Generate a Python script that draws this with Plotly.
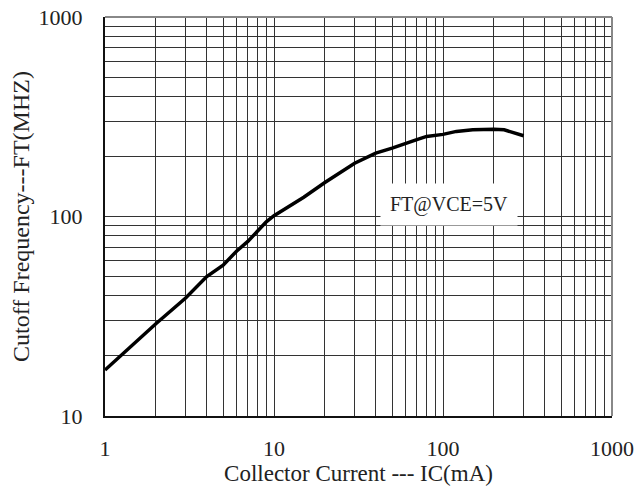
import plotly.graph_objects as go

# Data
ic_ma = [1, 2, 3, 4, 5, 6, 7, 8, 9, 10, 15, 20, 30, 40, 50, 70, 80, 100, 120, 150, 200, 230, 300]
ft_mhz = [17, 29, 39, 50, 57, 67, 75, 85, 94, 101, 125, 148, 185, 208, 220, 243, 252, 258, 267, 272, 274, 272, 254]

x_major = [1, 10, 100, 1000]
x_major_text = ["1", "10", "100", "1000"]
y_major = [10, 100, 1000]
y_major_text = ["10", "100", "1000"]
x_minor = [m * d for d in [1, 10, 100] for m in range(2, 10)]
y_minor = [m * d for d in [10, 100] for m in range(2, 10)]

FONT = "Liberation Serif"

fig = go.Figure()
fig.add_trace(go.Scatter(x=ic_ma, y=ft_mhz, mode="lines",
                         line=dict(color="black", width=3.5), showlegend=False))

fig.add_annotation(x=2.036, y=2.06, xref="x", yref="y", text="FT@VCE=5V",
                   showarrow=False, bgcolor="white", borderpad=9,
                   font=dict(family=FONT, size=20, color="#222"))

axis_common = dict(
    type="log", automargin=False,
    showgrid=True, gridcolor="#333", gridwidth=1,
    showline=True, linecolor="#111", linewidth=2,
    ticks="", zeroline=False, ticklabeloverflow="allow",
    tickfont=dict(family=FONT, size=22, color="#222"),
)

fig.update_xaxes(range=[0, 3], tickvals=x_major, ticktext=x_major_text,
                 minor=dict(tickvals=x_minor, showgrid=True, gridcolor="#333", gridwidth=1),
                 ticklabelstandoff=12,
                 title=dict(text="Collector Current --- IC(mA)", standoff=0,
                            font=dict(family=FONT, size=23, color="#222")),
                 **axis_common)
fig.update_yaxes(range=[1, 3], tickvals=y_major, ticktext=y_major_text,
                 minor=dict(tickvals=y_minor, showgrid=True, gridcolor="#333", gridwidth=1),
                 ticklabelstandoff=16,
                 title=dict(text="Cutoff Frequency---FT(MHZ)", standoff=6,
                            font=dict(family=FONT, size=24, color="#222")),
                 **axis_common)

# top and right frame lines (lighter)
fig.add_shape(type="line", xref="paper", yref="paper", x0=0, x1=1, y0=1, y1=1,
              line=dict(color="#888", width=2))
fig.add_shape(type="line", xref="paper", yref="paper", x0=1, x1=1, y0=0, y1=1,
              line=dict(color="#888", width=2))

# page body has an 8px margin: size the figure to fill the remaining window
fig.update_layout(
    width=634, height=485,
    margin=dict(l=97, r=30, t=9, b=77),
    plot_bgcolor="white", paper_bgcolor="white",
)

fig.write_html("out.html")
